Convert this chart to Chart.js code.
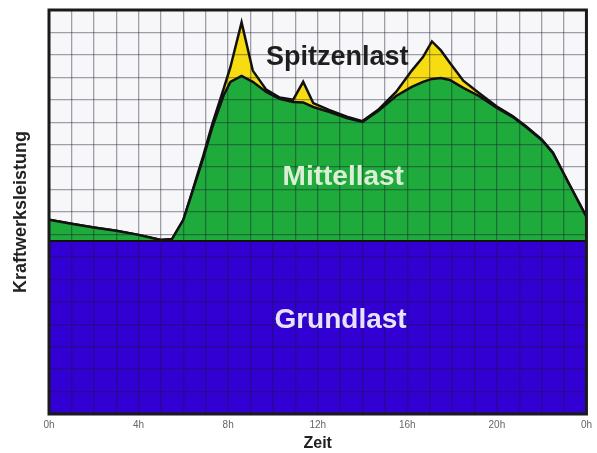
<!DOCTYPE html>
<html>
<head>
<meta charset="utf-8">
<script src="https://cdn.jsdelivr.net/npm/chart.js@4.4.1/dist/chart.umd.min.js"></script>
<style>
  body { margin: 0; background: #fff; }
  #wrap { width: 597px; height: 453px; }
</style>
</head>
<body>
<div id="wrap"><canvas id="lastChart"></canvas></div>
<script>
// --- data (hours of the day, load in grid units) ---
const hours = [0, 1, 2, 3, 4, 4.6, 5, 5.5, 6, 6.4, 6.9, 7.3, 7.8, 8.1, 8.6, 9.1, 9.7, 10.3, 10.9, 11.35,
  11.8, 12.5, 13.3, 14, 14.7, 15.5, 16.2, 16.7, 17.1, 17.5, 17.9, 18.5, 19.2, 20, 20.7, 21.3, 22, 22.5, 23.2, 24];

const grundlast = 7.71;

const mittellast = [8.65, 8.48, 8.31, 8.16, 7.98, 7.84, 7.75, 7.8, 8.65, 9.89, 11.45, 12.79, 14.2, 14.8, 15.06, 14.8, 14.35, 14.04, 13.9, 13.88,
  13.68, 13.46, 13.19, 13.01, 13.5, 14.17, 14.57, 14.8, 14.93, 14.97, 14.88, 14.53, 14.17, 13.64, 13.24, 12.79, 12.21, 11.63, 10.29, 8.78];

const spitzenlast = [8.65, 8.48, 8.31, 8.16, 7.98, 7.84, 7.75, 7.8, 8.65, 9.92, 11.55, 12.95, 14.5, 15.45, 17.45, 15.3, 14.45, 14.1, 14.0, 14.8,
  13.85, 13.55, 13.25, 13.05, 13.55, 14.35, 15.3, 15.9, 16.6, 16.2, 15.65, 14.85, 14.3, 13.7, 13.28, 12.82, 12.23, 11.65, 10.3, 8.78];

const tickHours = [0, 4, 8, 12, 16, 20, 24];

// area labels: text, hour, value (baseline)
const areaLabels = [
  { text: 'Spitzenlast', h: 12.87, v: 15.55, color: '#1e1e1e', size: 27 },
  { text: 'Mittellast', h: 13.14, v: 10.2, color: '#dcefd6', size: 28 },
  { text: 'Grundlast', h: 13.02, v: 3.83, color: '#e6e2fb', size: 28 }
];

const toPts = vals => hours.map((h, i) => ({ x: h, y: vals[i] }));

// --- plugins ---
const plotBg = {
  id: 'plotBg',
  beforeDraw(chart) {
    const { ctx, chartArea: a } = chart;
    ctx.save();
    ctx.fillStyle = '#f7f7fa';
    ctx.fillRect(a.left, a.top, a.right - a.left, a.bottom - a.top);
    ctx.restore();
  }
};

const labelsAndFrame = {
  id: 'labelsAndFrame',
  afterDraw(chart) {
    const { ctx, chartArea: a, scales } = chart;
    ctx.save();
    ctx.textAlign = 'center';
    ctx.textBaseline = 'alphabetic';
    areaLabels.forEach(l => {
      ctx.font = 'bold ' + l.size + 'px "Liberation Sans", Arial, sans-serif';
      ctx.fillStyle = l.color;
      ctx.fillText(l.text, scales.x.getPixelForValue(l.h), scales.y.getPixelForValue(l.v));
    });
    ctx.strokeStyle = '#1a1a1a';
    ctx.lineWidth = 3;
    ctx.strokeRect(a.left, a.top, a.right - a.left, a.bottom - a.top);
    ctx.restore();
  }
};

const gridColor = 'rgba(25, 25, 45, 0.4)';

new Chart(document.getElementById('lastChart'), {
  type: 'line',
  data: {
    datasets: [
      {
        label: 'Grundlast',
        data: hours.map(h => ({ x: h, y: grundlast })),
        borderColor: '#111',
        borderWidth: 2,
        backgroundColor: '#3200d2',
        fill: 'origin'
      },
      {
        label: 'Mittellast',
        data: toPts(mittellast),
        borderColor: '#111',
        borderWidth: 2.5,
        backgroundColor: '#1faa3c',
        fill: '-1'
      },
      {
        label: 'Spitzenlast',
        data: toPts(spitzenlast),
        borderColor: '#111',
        borderWidth: 2.5,
        backgroundColor: '#f8dc12',
        fill: '-1'
      }
    ]
  },
  options: {
    responsive: true,
    maintainAspectRatio: false,
    animation: false,
    layout: { padding: { top: 10, right: 10, left: 0, bottom: 0 } },
    elements: { point: { radius: 0 }, line: { tension: 0 } },
    plugins: { legend: { display: false }, tooltip: { enabled: false } },
    scales: {
      x: {
        type: 'linear',
        min: 0,
        max: 24,
        grid: { color: gridColor, lineWidth: 1.3, drawTicks: false, z: 1 },
        border: { display: false },
        ticks: {
          stepSize: 1,
          autoSkip: false,
          maxRotation: 0,
          padding: 5,
          color: '#666',
          font: { size: 10, family: '"Liberation Sans", Arial, sans-serif' },
          callback: v => tickHours.includes(v) ? (v % 24) + 'h' : ''
        },
        title: {
          display: true,
          text: 'Zeit',
          color: '#222',
          padding: { top: 0, bottom: 0 },
          font: { size: 16, weight: 'bold', family: '"Liberation Sans", Arial, sans-serif' }
        },
        afterFit(scale) { scale.height = 39; }
      },
      y: {
        min: 0,
        max: 18,
        grid: { color: gridColor, lineWidth: 1.3, drawTicks: false, z: 1 },
        border: { display: false },
        ticks: { stepSize: 1, display: false },
        title: {
          display: true,
          text: 'Kraftwerksleistung',
          color: '#222',
          padding: { top: 10, bottom: 0 },
          font: { size: 18, weight: 'bold', family: '"Liberation Sans", Arial, sans-serif' }
        },
        afterFit(scale) { scale.width = 49; }
      }
    }
  },
  plugins: [plotBg, labelsAndFrame]
});
</script>
</body>
</html>
